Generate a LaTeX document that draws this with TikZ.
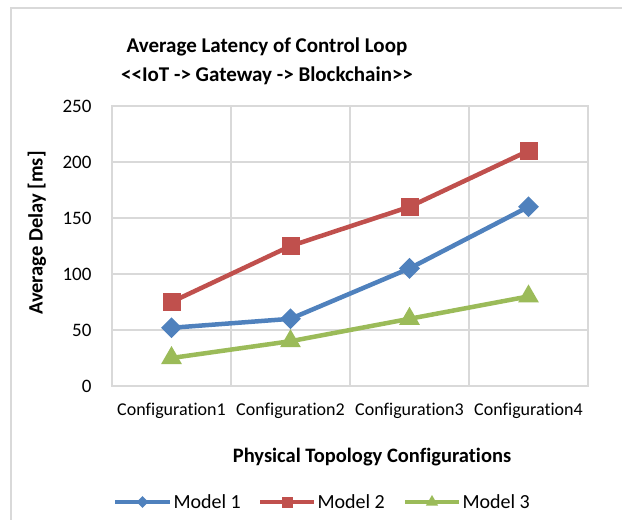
\documentclass[tikz,border=0pt]{standalone}
\usepackage{fontspec}
\setmainfont{Carlito}[Ligatures=NoCommon]
\usetikzlibrary{shapes.geometric}
\definecolor{serBlue}{HTML}{4F81BD}
\definecolor{serRed}{HTML}{C0504D}
\definecolor{serGreen}{HTML}{9BBB59}
\definecolor{gridGray}{HTML}{D9D9D9}

\begin{document}
\begin{tikzpicture}[x=1pt,y=-1pt]
          \tikzstyle{grid} = [draw=gridGray, line width=1.5pt]
          \tikzstyle{serie} = [draw, line width=4.5pt, line join=round]
          \tikzstyle{mkDiamond} = [diamond, fill=serBlue, inner sep=0pt, minimum size=21pt]
          \tikzstyle{mkSquare} = [rectangle, fill=serRed, inner sep=0pt, minimum size=18pt]
          \tikzstyle{mkTriangle} = [regular polygon, regular polygon sides=3, fill=serGreen, inner sep=0pt, minimum size=24pt]
          \tikzstyle{tick} = [anchor=east, font=\fontsize{19}{19}\selectfont]
          \tikzstyle{cat} = [font=\fontsize{18}{18}\selectfont]
          \tikzstyle{lgd} = [anchor=west, font=\fontsize{20}{20}\selectfont]
          \tikzstyle{axTitle} = [font=\bfseries\fontsize{20.5}{20.5}\selectfont]

          \useasboundingbox (0,0) rectangle (622,520);
          \fill[white] (0,0) rectangle (622,520);
          \draw[grid] (11,520) -- (11,8) -- (622,8);

          % title
          \node(Title)[font=\bfseries\fontsize{21}{29}\selectfont, align=center] at (267,61)
            {Average Latency of Control Loop\\{<}{<}IoT -{>} Gateway -{>} Blockchain{>}{>}};

          % plot area
          \draw[grid] (112,106) rectangle (588,386);
          \draw[grid] (112,162) -- (588,162);
          \draw[grid] (112,218) -- (588,218);
          \draw[grid] (112,274) -- (588,274);
          \draw[grid] (112,330) -- (588,330);
          \draw[grid] (231,106) -- (231,386);
          \draw[grid] (350,106) -- (350,386);
          \draw[grid] (469,106) -- (469,386);

          \node(y250)[tick] at (95,106) {250};
          \node(y200)[tick] at (95,162) {200};
          \node(y150)[tick] at (95,218) {150};
          \node(y100)[tick] at (95,274) {100};
          \node(y50)[tick] at (95,330) {50};
          \node(y0)[tick] at (95,386) {0};

          \node(Config1)[cat] at (171.5,411) {Configuration1};
          \node(Config2)[cat] at (290.5,411) {Configuration2};
          \node(Config3)[cat] at (409.5,411) {Configuration3};
          \node(Config4)[cat] at (528.5,411) {Configuration4};

          \node(xTitle)[axTitle] at (372,457) {Physical Topology Configurations};
          \node(yTitle)[axTitle, rotate=90] at (37,233) {Average Delay [ms]};

          % data points (y = 386 - 1.12*value)
          \coordinate(M1a) at (171.5,327.8);
          \coordinate(M1b) at (290.5,318.8);
          \coordinate(M1c) at (409.5,268.4);
          \coordinate(M1d) at (528.5,206.8);
          \coordinate(M2a) at (171.5,302);
          \coordinate(M2b) at (290.5,246);
          \coordinate(M2c) at (409.5,206.8);
          \coordinate(M2d) at (528.5,150.8);
          \coordinate(M3a) at (171.5,358);
          \coordinate(M3b) at (290.5,341.2);
          \coordinate(M3c) at (409.5,318.8);
          \coordinate(M3d) at (528.5,296.4);

          \draw[serie, serGreen] (M3a) -- (M3b) -- (M3c) -- (M3d);
          \draw[serie, serBlue] (M1a) -- (M1b) -- (M1c) -- (M1d);
          \draw[serie, serRed] (M2a) -- (M2b) -- (M2c) -- (M2d);

          \node[mkTriangle] at (M3a) {};
          \node[mkTriangle] at (M3b) {};
          \node[mkTriangle] at (M3c) {};
          \node[mkTriangle] at (M3d) {};
          \node[mkDiamond] at (M1a) {};
          \node[mkDiamond] at (M1b) {};
          \node[mkDiamond] at (M1c) {};
          \node[mkDiamond] at (M1d) {};
          \node[mkSquare] at (M2a) {};
          \node[mkSquare] at (M2b) {};
          \node[mkSquare] at (M2c) {};
          \node[mkSquare] at (M2d) {};

          % legend
          \coordinate(L1s) at (115,502);
          \coordinate(L1e) at (170,502);
          \coordinate(L2s) at (260,502);
          \coordinate(L2e) at (314,502);
          \coordinate(L3s) at (405,502);
          \coordinate(L3e) at (459,502);
          \draw[serie, serBlue] (L1s) -- (L1e);
          \draw[serie, serRed] (L2s) -- (L2e);
          \draw[serie, serGreen] (L3s) -- (L3e);
          \node(L1m)[mkDiamond, minimum size=12pt] at (142.5,502) {};
          \node(L2m)[mkSquare, minimum size=11pt] at (287,502) {};
          \node(L3m)[mkTriangle, minimum size=14pt] at (432,502) {};
          \node(Model1)[lgd] at (170,502) {Model 1};
          \node(Model2)[lgd] at (314,502) {Model 2};
          \node(Model3)[lgd] at (459,502) {Model 3};
        \end{tikzpicture}
\end{document}
